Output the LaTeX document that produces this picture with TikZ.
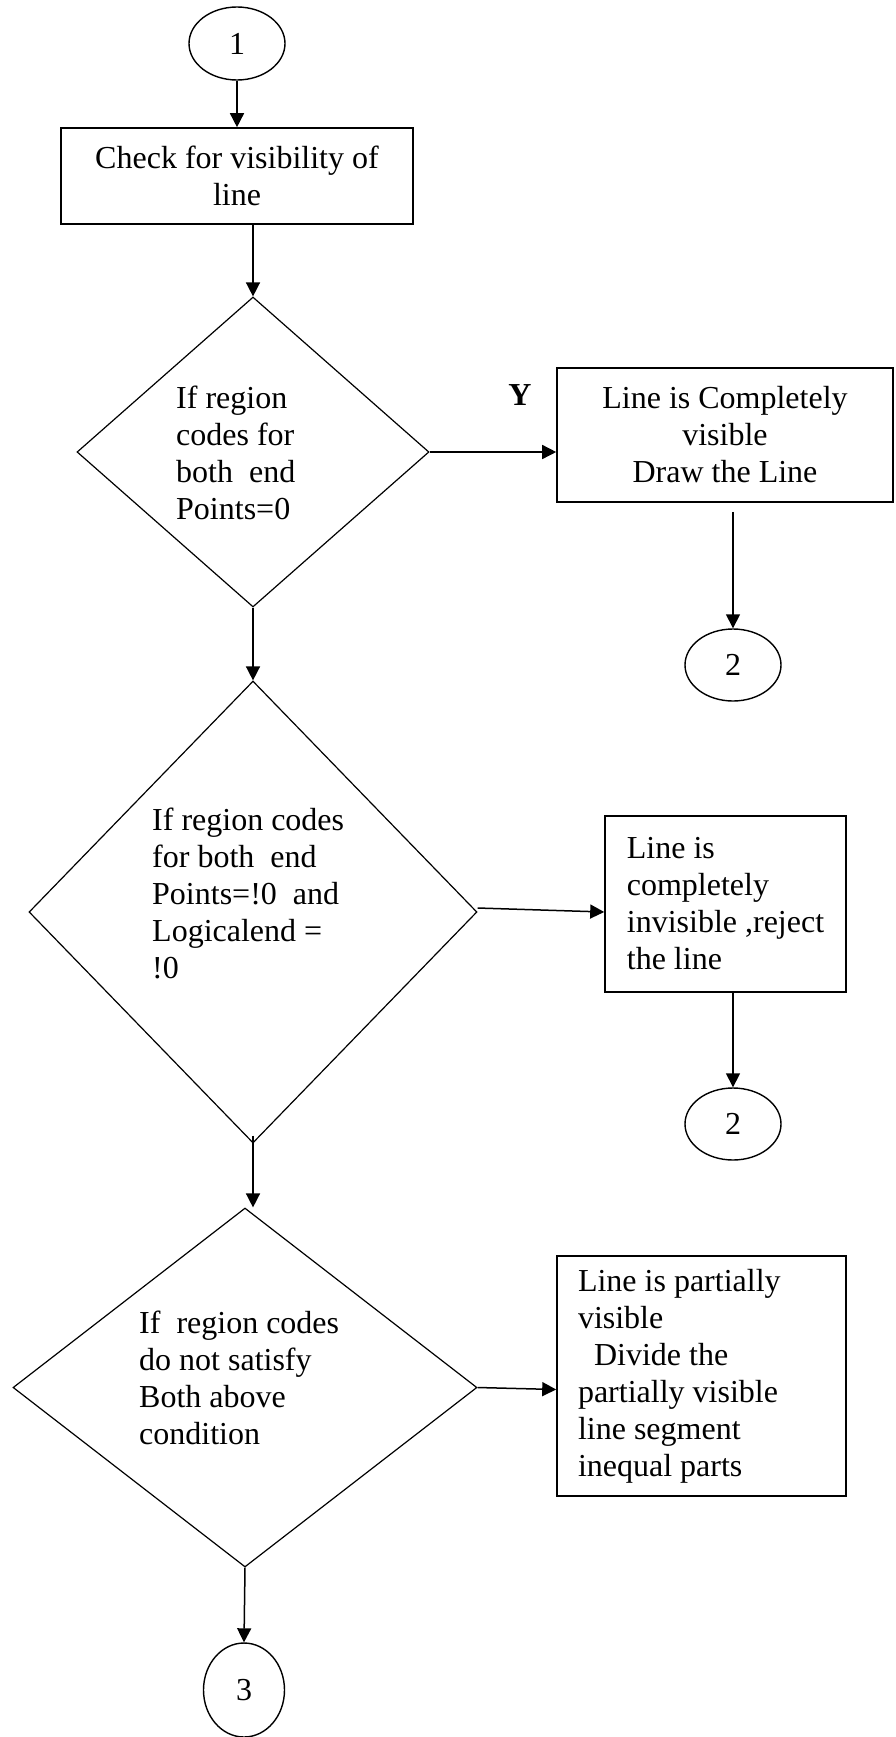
\documentclass[tikz,border=0pt]{standalone}
\usepackage{fontspec}
\setmainfont{Liberation Serif}
\usetikzlibrary{shapes.geometric,arrows.meta,calc}

\begin{document}
\begin{tikzpicture}[x=1pt,y=-1pt,
  every node/.style={font=\fontsize{32}{37}\selectfont},
  connector/.style={oval},
  oval/.style={draw,ellipse,line width=1.4pt,inner sep=0pt},
  procbox/.style={draw,rectangle,line width=1.6pt,inner sep=0pt},
  decision/.style={draw,diamond,line width=1.2pt,inner sep=0pt},
  dtext/.style={anchor=north west,inner sep=0pt,align=left},
  flow/.style={line width=1.5pt,-{Triangle[length=14pt,width=14pt]}}
]
\useasboundingbox (0,0) rectangle (896,1737);

% start connector and first process
\node[connector,minimum width=96pt,minimum height=73pt] (c1) at (237,43.5) {1};
\node[procbox,minimum width=352pt,minimum height=96pt,align=center] (b1) at (237,176)
  {Check for visibility of\\line};

% first decision: trivially accepted
\node[decision,minimum width=352pt,minimum height=310pt] (d1) at (253,452) {};
\node[dtext] (d1t) at (176,386) {If region\\codes for\\both\ \ end\\Points=0};
\node[procbox,minimum width=336pt,minimum height=134pt,align=center] (b2) at (725,435)
  {Line is Completely\\visible\\Draw the Line};
\node[font=\fontsize{32}{37}\selectfont\bfseries,inner sep=0pt] (yes) at (520,395) {Y};
\node[connector,minimum width=96pt,minimum height=72pt] (c2a) at (733,665) {2};

% second decision: trivially rejected
\node[decision,minimum width=448pt,minimum height=462pt] (d2) at (253,912) {};
\node[dtext] (d2t) at (152,808)
  {If region codes\\for both\ \ end\\Points=!0\ \ and\\Logicalend =\\!0};
\node[procbox,minimum width=241pt,minimum height=176pt,align=left] (b3) at (725.5,904)
  {Line is\\completely\\invisible ,reject\\the line};
\node[connector,minimum width=96pt,minimum height=72pt] (c2b) at (733,1124) {2};

% third decision: partially visible
\node[decision,minimum width=464pt,minimum height=359pt] (d3) at (245,1387.5) {};
\node[dtext] (d3t) at (139,1311)
  {If\ \ region codes\\do not satisfy\\Both above\\condition};
\node[procbox,minimum width=289pt,minimum height=240pt,text width=247pt,align=flush left,inner xsep=21pt] (b4) at (701.5,1376)
  {Line is partially\\visible\\\hspace*{16pt}Divide the\\partially visible\\line segment\\inequal parts};
\node[connector,minimum width=81pt,minimum height=94pt] (c3) at (244,1690) {3};

% connectors
\draw[flow] (c1.south) -- (b1.north);
\draw[flow] (b1.south -| d1.north) -- (d1.north);
\draw[flow] (d1.east) -- (d1.east -| b2.west);
\draw[flow] ($(c2a.north |- b2.south)+(0,9)$) -- (c2a.north);
\draw[flow] (d1.south) -- (d2.north);
\draw[flow] ([yshift=4pt]d2.east) -- (d2.east -| b3.west);
\draw[flow] (c2b.north |- b3.south) -- (c2b.north);
\draw[flow] ($(d2.south)+(0,-8)$) -- (d2.south |- d3.north);
\draw[flow] (d3.east) -- ($(d3.east -| b4.west)+(0,2)$);
\draw[flow] (d3.south) -- (c3.north);
\end{tikzpicture}
\end{document}
